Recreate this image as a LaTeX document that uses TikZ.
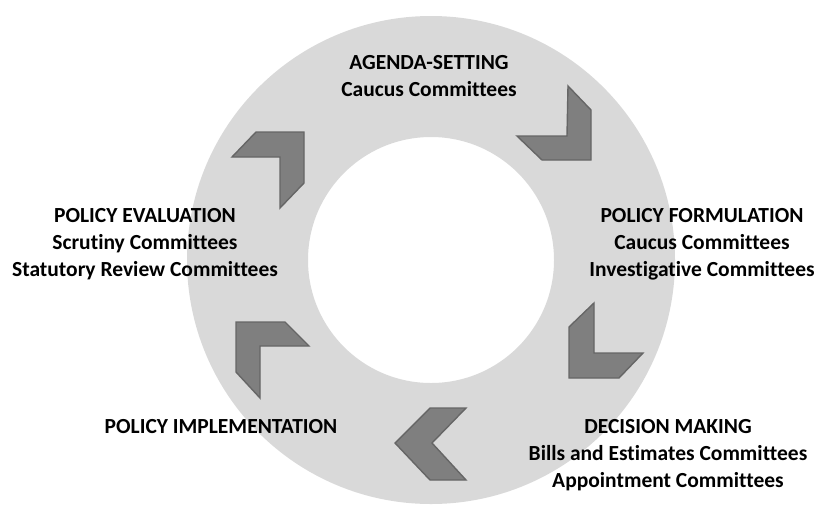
\documentclass[tikz,border=0pt]{standalone}
\usepackage{fontspec}
\setmainfont{Carlito}[Ligatures=NoCommon]
\usetikzlibrary{positioning}
\definecolor{ringgray}{HTML}{D9D9D9}
\definecolor{chevfill}{HTML}{7F7F7F}
\definecolor{chevline}{HTML}{666666}

\begin{document}
\begin{tikzpicture}[
  x=1pt, y=-1pt,
  every node/.style={font=\fontsize{21.5}{27}\selectfont\bfseries, text=black},
  stage/.style={align=center, inner sep=0pt},
  chev/.style={fill=chevfill, draw=chevline, line width=1.4pt, line join=miter},
]

\useasboundingbox (0,0) rectangle (814,504);
\clip (0,0) rectangle (814,504);

%% Ring
\coordinate (C) at (431,260);
\fill[ringgray, even odd rule] (C) circle (244) (C) circle (123);

%% Chevrons (clockwise from the top)
\draw[chev] (568,86) -- (591,110) -- (591,160) -- (542,160) -- (517,136) -- (567,136) -- cycle;
\draw[chev] (594,303) -- (594,353) -- (643,353) -- (619,378) -- (569,378) -- (569,327) -- cycle;
\draw[chev] (430,408) -- (466,408) -- (432,443) -- (466,480) -- (430,480) -- (395,443) -- cycle;
\draw[chev] (236,322) -- (285,322) -- (309,346) -- (260,346) -- (260,398) -- (236,372) -- cycle;
\draw[chev] (256,132) -- (304,132) -- (304,183) -- (280,208) -- (280,157) -- (232,157) -- cycle;

%% Stages
\node[stage] (agenda) at (429,76)
  {AGENDA-SETTING\\Caucus Committees};
\node[stage] (form) at (702,244)
  {POLICY FORMULATION\\Caucus Committees\\Investigative Committees};
\node[stage] (decision) at (668,455)
  {DECISION MAKING\\Bills and Estimates Committees\\Appointment Committees};
\node[stage] (impl) at (221,427)
  {POLICY IMPLEMENTATION};
\node[stage] (eval) at (145,244)
  {POLICY EVALUATION\\Scrutiny Committees\\Statutory Review Committees};

\end{tikzpicture}
\end{document}
